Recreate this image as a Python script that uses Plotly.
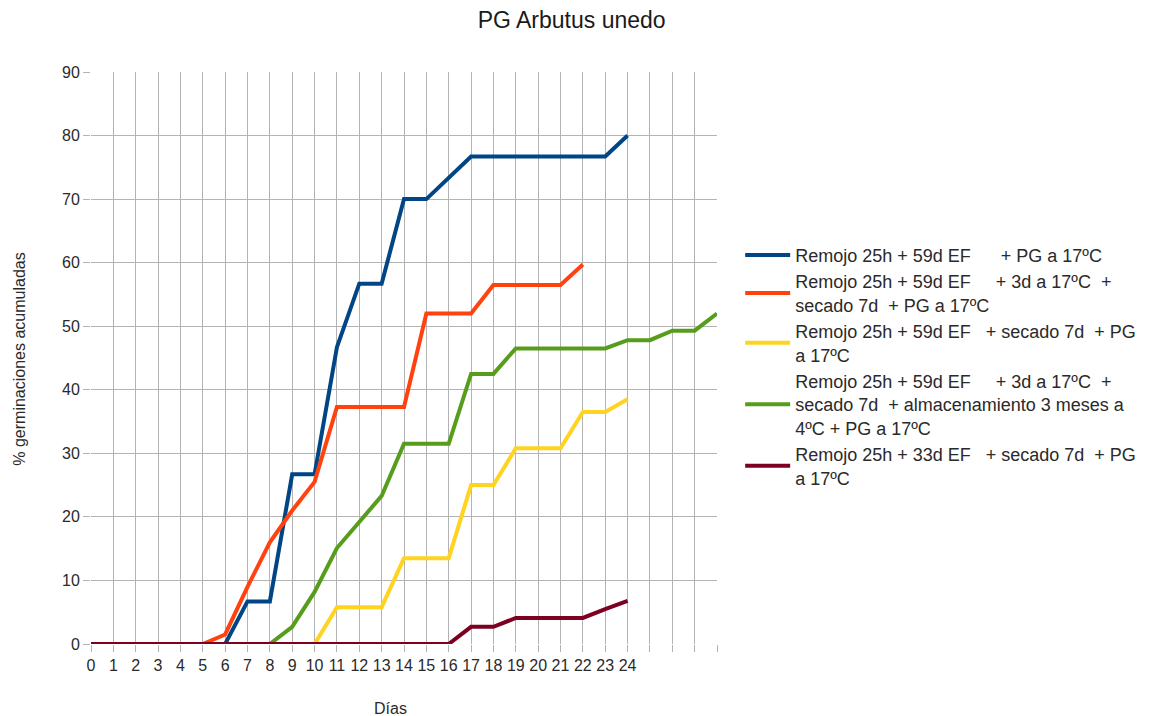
import plotly.graph_objects as go

dias = list(range(0, 29))
tick_text = [str(d) for d in range(0, 25)] + ["", "", "", ""]

nombres = [
    "Remojo 25h + 59d EF      + PG a 17ºC",
    "Remojo 25h + 59d EF     + 3d a 17ºC  +<br>secado 7d  + PG a 17ºC",
    "Remojo 25h + 59d EF   + secado 7d  + PG<br>a 17ºC",
    "Remojo 25h + 59d EF     + 3d a 17ºC  +<br>secado 7d  + almacenamiento 3 meses a<br>4ºC + PG a 17ºC",
    "Remojo 25h + 33d EF   + secado 7d  + PG<br>a 17ºC",
]
colores = ["#004586", "#ff420e", "#ffd320", "#579d1c", "#7e0021"]

azul = [0, 0, 0, 0, 0, 0, 0, 6.7, 6.7, 26.7, 26.7, 46.7, 56.7, 56.7, 70, 70,
        73.3, 76.7, 76.7, 76.7, 76.7, 76.7, 76.7, 76.7, 80]
naranja = [0, 0, 0, 0, 0, 0, 1.5, 9, 16, 21, 25.5, 37.3, 37.3, 37.3, 37.3, 52,
           52, 52, 56.5, 56.5, 56.5, 56.5, 59.7]
amarillo = [0, 0, 0, 0, 0, 0, 0, 0, 0, 0, 0, 5.8, 5.8, 5.8, 13.5, 13.5, 13.5,
            25, 25, 30.8, 30.8, 30.8, 36.5, 36.5, 38.5]
verde = [0, 0, 0, 0, 0, 0, 0, 0, 0, 2.7, 8.2, 15.1, 19.2, 23.3, 31.5, 31.5,
         31.5, 42.5, 42.5, 46.5, 46.5, 46.5, 46.5, 46.5, 47.8, 47.8, 49.3,
         49.3, 52]
granate = [0, 0, 0, 0, 0, 0, 0, 0, 0, 0, 0, 0, 0, 0, 0, 0, 0, 2.7, 2.7, 4.1,
           4.1, 4.1, 4.1, 5.5, 6.8]

series = [azul, naranja, amarillo, verde, granate]

fig = go.Figure()
for nombre, color, valores in zip(nombres, colores, series):
    fig.add_trace(go.Scatter(
        x=dias[:len(valores)],
        y=valores,
        mode="lines",
        name=nombre,
        line=dict(color=color, width=4),
    ))

# page has an 8px body margin, so positions are shifted by -8 px
fig.update_layout(
    width=1155,
    height=716,
    paper_bgcolor="white",
    plot_bgcolor="white",
    font=dict(family="Liberation Sans", size=16, color="#2a2a2a"),
    title=dict(text="PG Arbutus unedo", x=0.488, xanchor="center", y=0.983,
               yanchor="middle", font=dict(size=23, color="#1a1a1a")),
    margin=dict(l=83, r=446, t=64, b=80),
    showlegend=True,
    legend=dict(x=1.037, xanchor="left", y=0.712, yanchor="top",
                font=dict(size=18, color="#2a2a2a"), itemwidth=45,
                bgcolor="rgba(0,0,0,0)"),
    xaxis=dict(
        range=[0, 28],
        tickmode="array",
        tickvals=dias,
        ticktext=tick_text,
        showgrid=True,
        gridcolor="#b3b3b3",
        gridwidth=1,
        ticks="outside",
        ticklen=7,
        tickcolor="#b3b3b3",
        zeroline=False,
        showline=False,
        tickangle=0,
    ),
    yaxis=dict(
        range=[0, 90],
        dtick=10,
        showgrid=True,
        gridcolor="#b3b3b3",
        gridwidth=1,
        ticks="outside",
        ticklen=7,
        tickcolor="#b3b3b3",
        ticklabelstandoff=0,
        zeroline=False,
        showline=False,
    ),
    annotations=[
        dict(text="Días", xref="paper", yref="paper", x=(382 - 83) / 626,
             y=-(700 - 636) / 572, xanchor="center", yanchor="middle",
             showarrow=False, font=dict(size=16)),
        dict(text="% germinaciones acumuladas", xref="paper", yref="paper",
             x=-(83 - 12) / 626, y=0.497, xanchor="center", yanchor="middle",
             textangle=-90, showarrow=False, font=dict(size=16)),
    ],
)

fig.write_html("out.html")
